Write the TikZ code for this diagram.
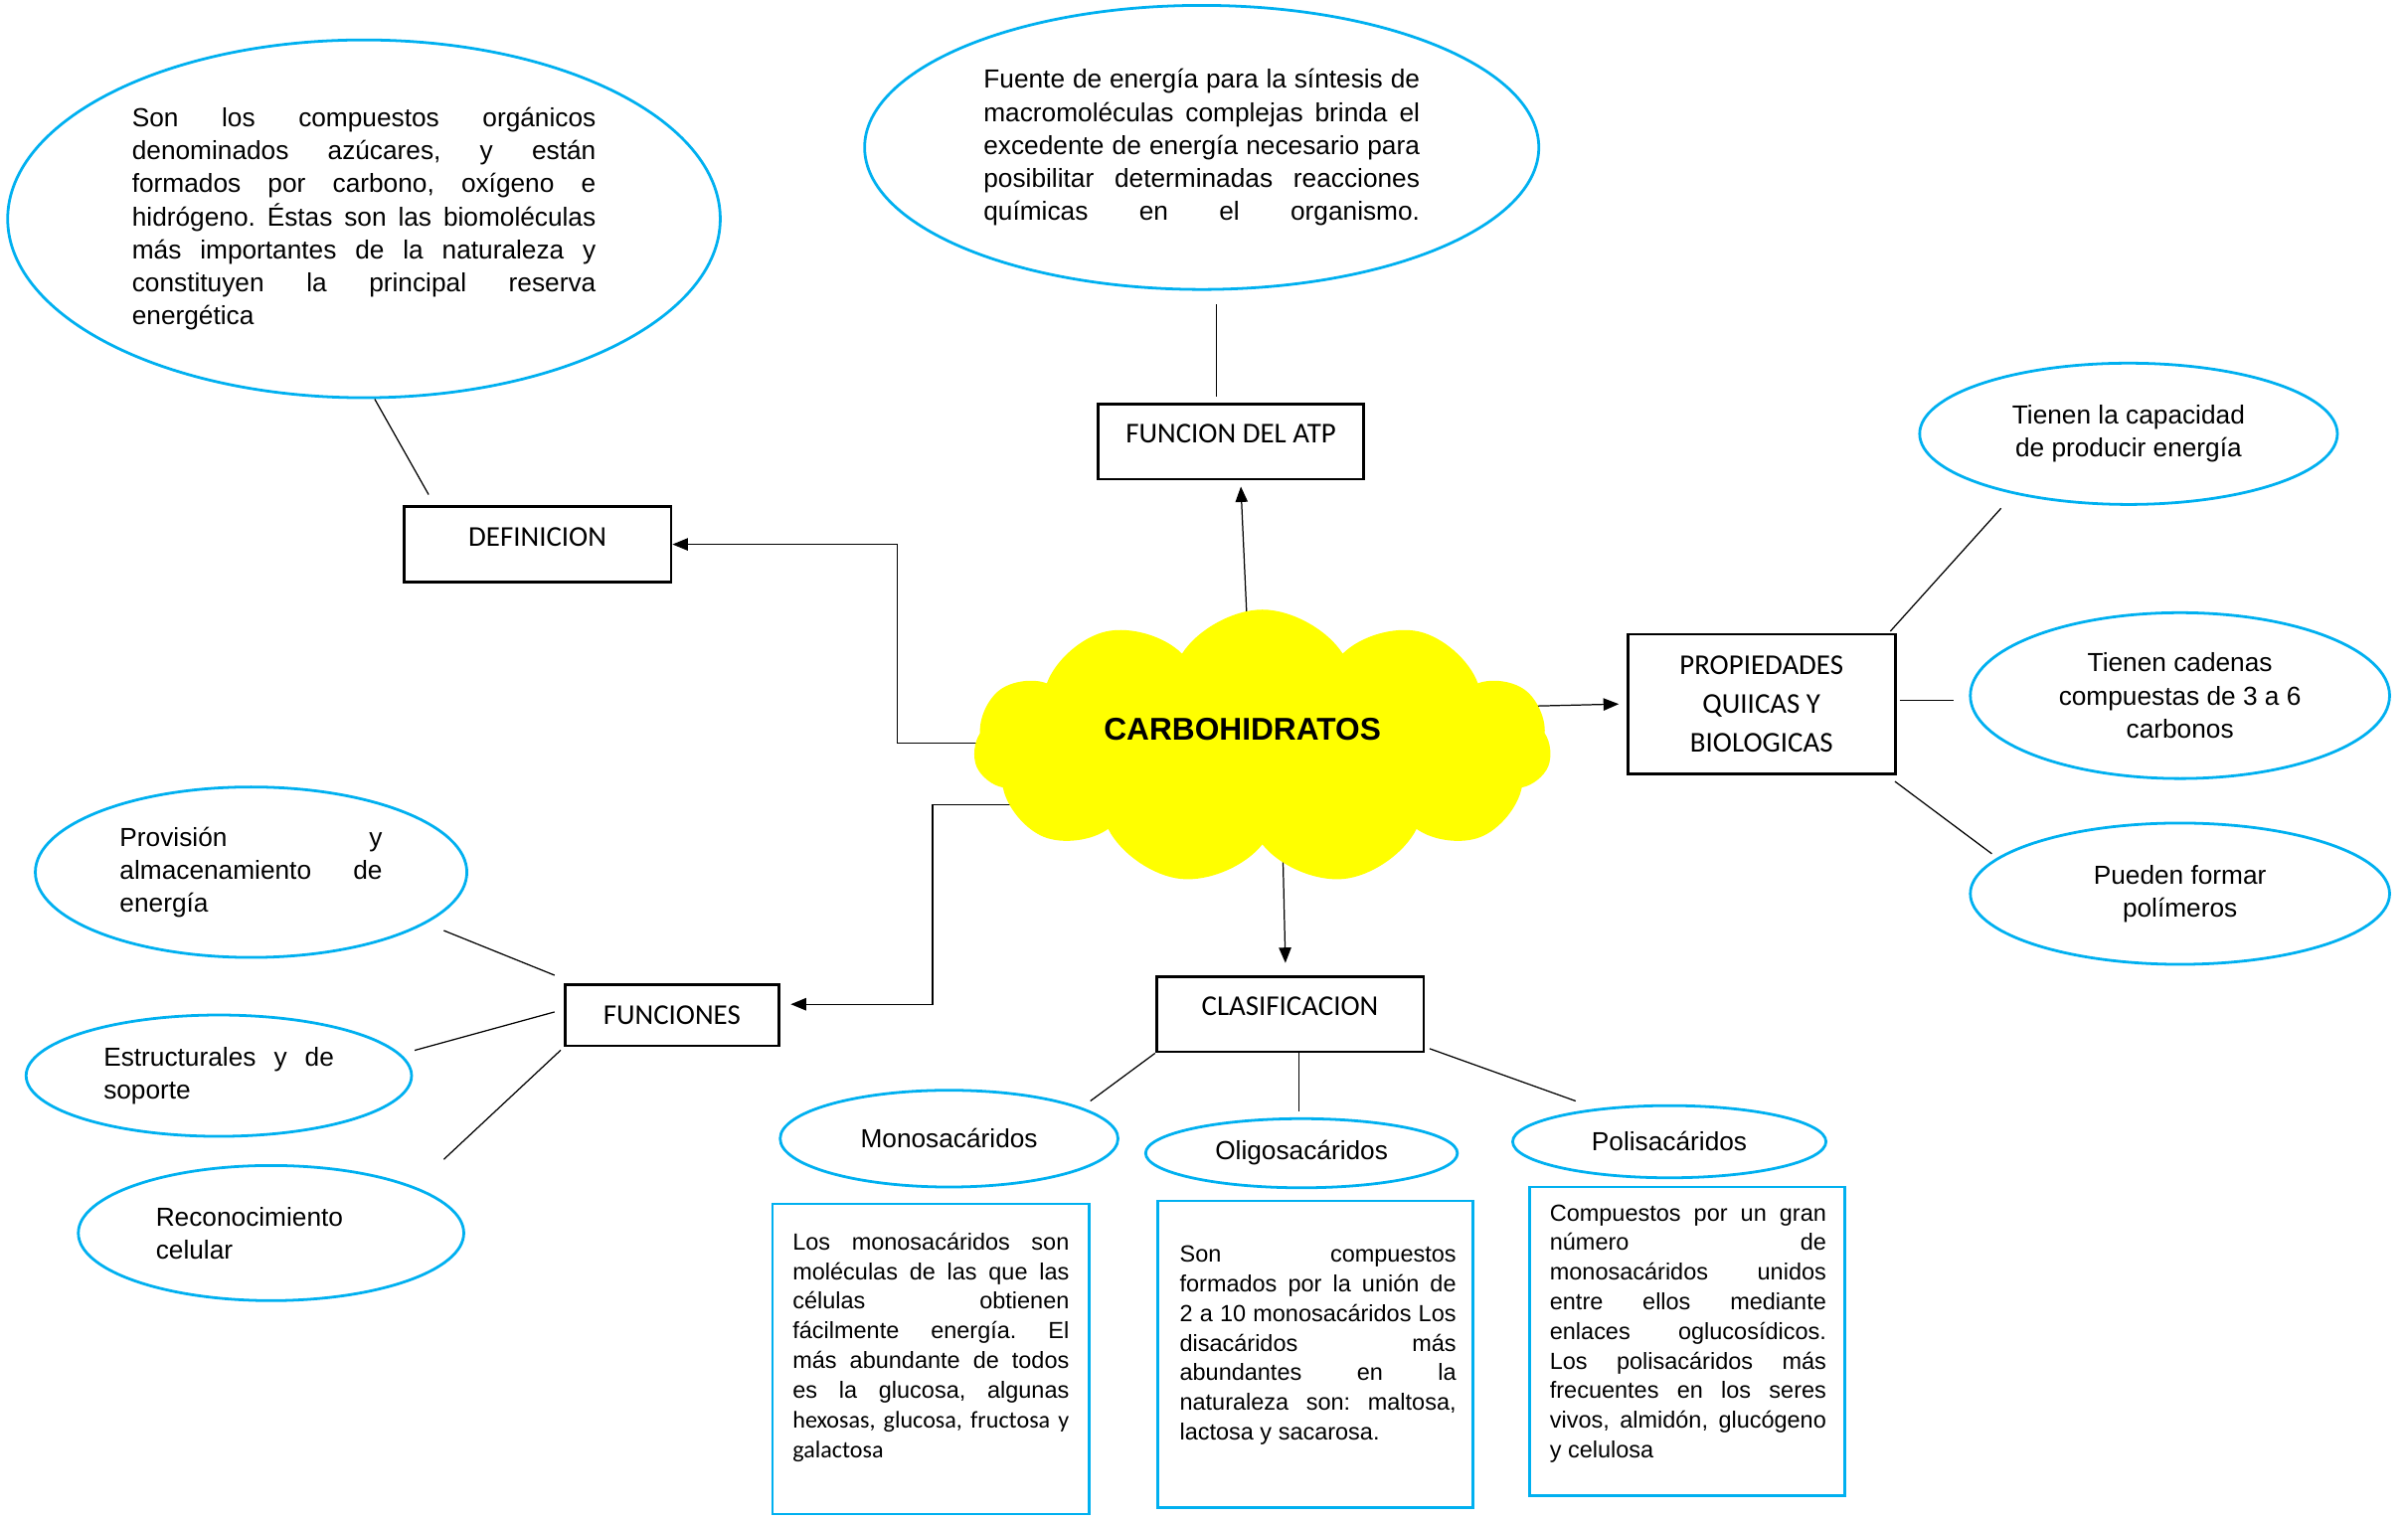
\documentclass[tikz,border=0pt]{standalone}
\usepackage{fontspec}
\setmainfont{Liberation Sans}
\newfontfamily\calfont{Carlito}
\usetikzlibrary{positioning,calc,arrows.meta,shapes.geometric,shapes.symbols}
\definecolor{celeste}{RGB}{0,176,240}
\definecolor{amarillo}{RGB}{255,255,0}
\pgfdeclarelayer{fondo}
\pgfsetlayers{fondo,main}
\frenchspacing
\tolerance=9999
\hyphenpenalty=10000
\tikzset{
  caja/.style={draw, line width=1.8pt, minimum width=174pt, minimum height=49pt, inner sep=0pt, font=\calfont\fontsize{18.7}{25}\selectfont},
  globo/.style={ellipse, draw=celeste, line width=1.8pt, inner sep=4pt, font=\fontsize{17}{21.5}\selectfont},
  cuadro/.style={draw=celeste, line width=1.8pt, inner sep=0pt},
  parrafo/.style={text width=180pt, align=justify, inner sep=0pt, anchor=base west, font=\fontsize{15.2}{19.3}\selectfont},
  linea/.style={line width=0.8pt},
  flecha/.style={line width=0.8pt, -{Triangle[length=10pt,width=8pt]}},
}
\begin{document}
\begin{tikzpicture}[x=1pt,y=-1pt]
	\path[use as bounding box] (0,0) rectangle (1568,990);

	\node[cloud, cloud puffs=11, cloud puff arc=115, aspect=2.1, fill=amarillo, minimum width=376pt, minimum height=179pt, inner sep=0pt] (cloud) at (822,486.5) {};
	\node[font=\bfseries\fontsize{20.5}{24}\selectfont] (carb) at (809,475) {CARBOHIDRATOS};

	\node[globo, text width=302pt, align=justify, minimum width=464pt, minimum height=233pt] (defEll) at (237,142.5) {Son los compuestos orgánicos\linebreak denominados azúcares, y están\linebreak formados por carbono, oxígeno e\linebreak hidrógeno. Éstas son las biomoléculas\linebreak más importantes de la naturaleza y\linebreak constituyen la principal reserva\linebreak energética};
	\node[caja, text depth=10pt] (def) at (350,354.5) {DEFINICION};

	\node[globo, text width=284pt, align=justify, minimum width=439pt, minimum height=185pt] (atpEll) at (782.5,96) {Fuente de energía para la síntesis de\linebreak macromoléculas complejas brinda el\linebreak excedente de energía necesario para\linebreak posibilitar determinadas reacciones\linebreak \makebox[\linewidth][s]{químicas en el organismo.}};
	\node[caja, text depth=10pt, minimum width=173pt] (atp) at (801.5,287.5) {FUNCION DEL ATP};

	\node[caja, minimum height=91pt, align=center] (prop) at (1147,458.5) {PROPIEDADES\\ QUIICAS Y\\ BIOLOGICAS};
	\node[globo, align=center, minimum width=272pt, minimum height=92pt] (prop1) at (1386,282.5) {Tienen la capacidad\\ de producir energía};
	\node[globo, align=center, minimum width=273pt, minimum height=108pt] (prop2) at (1419.5,453) {Tienen cadenas\\ compuestas de 3 a 6\\ carbonos};
	\node[globo, align=center, minimum width=273pt, minimum height=92pt] (prop3) at (1419.5,582) {Pueden formar\\ polímeros};

	\node[caja, minimum width=139pt, minimum height=40pt] (fun) at (437.5,661) {FUNCIONES};
	\node[globo, text width=171pt, align=justify, minimum width=281pt, minimum height=111pt] (fun1) at (163.5,568) {Provisión y\linebreak almacenamiento de\linebreak energía};
	\node[globo, text width=150pt, align=justify, minimum width=251pt, minimum height=79pt] (fun2) at (142.5,700.5) {Estructurales y de\linebreak soporte};
	\node[globo, text width=150pt, align=left, minimum width=251pt, minimum height=88pt] (fun3) at (176.5,803) {Reconocimiento\\ celular};

	\node[caja, text depth=10pt] (clas) at (840,660.5) {CLASIFICACION};
	\node[globo, minimum width=220pt, minimum height=63pt] (mono) at (618,741.5) {Monosacáridos};
	\node[globo, minimum width=203pt, minimum height=45pt] (oligo) at (847.5,751) {Oligosacáridos};
	\node[globo, minimum width=204pt, minimum height=47pt] (poli) at (1087,743.5) {Polisacáridos};

	\node[cuadro, minimum width=206pt, minimum height=202pt] (monoBox) at (606,885) {};
	\node[cuadro, minimum width=205pt, minimum height=200pt] (oligoBox) at (856.5,882) {};
	\node[cuadro, minimum width=205pt, minimum height=201pt] (poliBox) at (1098.5,873.5) {};
	\node[parrafo] (monoTxt) at (516,814) {Los monosacáridos son\linebreak moléculas de las que las\linebreak células obtienen\linebreak fácilmente energía. El\linebreak más abundante de todos\linebreak es la glucosa, algunas\linebreak {\calfont\fontsize{15.6}{19.3}\selectfont hexosas, glucosa, fructosa y\linebreak galactosa}};
	\node[parrafo] (oligoTxt) at (768,822) {Son compuestos\linebreak formados por la unión de\linebreak 2 a 10 monosacáridos Los\linebreak disacáridos más\linebreak abundantes en la\linebreak naturaleza son: maltosa,\linebreak lactosa y sacarosa.};
	\node[parrafo] (poliTxt) at (1009,795) {Compuestos por un gran\linebreak número de\linebreak monosacáridos unidos\linebreak entre ellos mediante\linebreak enlaces oglucosídicos.\linebreak Los polisacáridos más\linebreak frecuentes en los seres\linebreak vivos, almidón, glucógeno\linebreak y celulosa};

	\begin{pgfonlayer}{fondo}
	\fill[white] (0,0) rectangle (1568,990);
	\draw[flecha] ([xshift=30pt,yshift=2.5pt]cloud.west) -- ++(-80,0) |- (def.east);
	\draw[flecha] ([xshift=30pt,yshift=-37.5pt]cloud.west) -- ++(-57,0) |- ([xshift=7pt,yshift=7pt]fun.east);
	\draw[flecha] ([xshift=-9pt,yshift=-30pt]cloud.north) -- ([xshift=6.5pt,yshift=-4pt]atp.south);
	\draw[flecha] ([xshift=-40pt,yshift=26pt]cloud.east) -- ([xshift=-5pt]prop.west);
	\draw[flecha] ([xshift=12.5pt,yshift=30pt]cloud.south) -- ([xshift=-3pt,yshift=8pt]clas.north);
	\end{pgfonlayer}

	\draw[linea] ([xshift=7pt]defEll.south) -- ([xshift=17pt,yshift=7pt]def.north west);
	\draw[linea] ([xshift=-9.5pt,yshift=4pt]atp.north) -- ([xshift=9.5pt,yshift=-9pt]atpEll.south);

	\draw[linea] ([xshift=-4pt,yshift=1pt]prop.north east) -- ([xshift=-83pt,yshift=-48.5pt]prop1.center);
	\draw[linea] ([xshift=2pt,yshift=2.5pt]prop.east) -- ([xshift=-10pt,yshift=2.5pt]prop.east -| prop2.west);
	\draw[linea] ([xshift=-1pt,yshift=-4pt]prop.south east) -- ([xshift=-122.5pt,yshift=26pt]prop3.center);

	\draw[linea] ([xshift=-6pt,yshift=5pt]fun.north west) -- ([xshift=125.5pt,yshift=-38pt]fun1.center);
	\draw[linea] ([xshift=-6pt,yshift=2pt]fun.west) -- ([xshift=127.5pt,yshift=16.5pt]fun2.center);
	\draw[linea] ([xshift=-2pt,yshift=-2pt]fun.south west) -- ([xshift=112.5pt,yshift=48pt]fun3.center);

	\draw[linea] (clas.south west) -- ([xshift=92pt,yshift=24.5pt]mono.center);
	\draw[linea] ([xshift=6pt]clas.south) -- ([xshift=-1.5pt,yshift=4pt]oligo.north);
	\draw[linea] ([xshift=3pt,yshift=3pt]clas.south east) -- ([xshift=-61pt,yshift=26.5pt]poli.center);
\end{tikzpicture}
\end{document}
